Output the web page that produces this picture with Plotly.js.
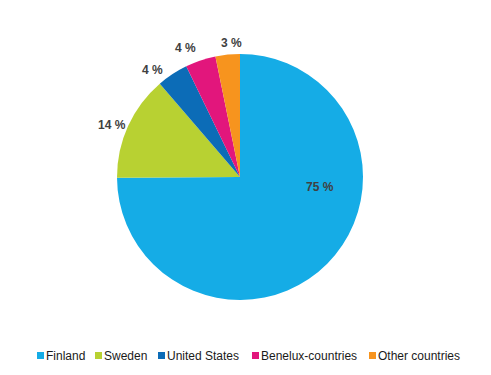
<!DOCTYPE html>
<html>
<head>
<meta charset="utf-8">
<script src="https://cdn.plot.ly/plotly-3.0.1.min.js"></script>
<style>html,body{margin:0;padding:0;background:#fff;}#chart{width:491px;height:375px;}</style>
</head>
<body>
<div id="chart"></div>
<script>
const categories = ["Finland", "Sweden", "United States", "Benelux-countries", "Other countries"];
const shares = [74.9, 13.8, 4.1, 4.0, 3.2];
const shareLabels = ["75 %", "14 %", "4 %", "4 %", "3 %"];
const colors = ["#15ACE6", "#B8D132", "#0C6CB7", "#E2167C", "#F7941E"];

const W = 491, H = 375;
const M = {l: 0, r: 11, t: 54, b: 75};
const PW = W - M.l - M.r, PH = H - M.t - M.b;
const px = x => (x - M.l) / PW;
const py = y => (H - M.b - y) / PH;

// label anchor positions (pixels) for each slice
const labelPos = [[320, 187], [112, 125], [152, 70], [185, 48], [231, 43]];
// legend square left edges (pixels)
const legendX = [37, 95, 158, 252, 369];
const legendY = 355.5;

const annotations = [];
const shapes = [];
categories.forEach((c, i) => {
  annotations.push({
    xref: 'paper', yref: 'paper', x: px(labelPos[i][0]), y: py(labelPos[i][1]),
    xanchor: 'center', yanchor: 'middle', showarrow: false,
    text: '<b>' + shareLabels[i] + '</b>',
    font: {family: 'Liberation Sans, Arial, sans-serif', size: 12, color: '#404040'}
  });
  shapes.push({
    type: 'rect', xref: 'paper', yref: 'paper',
    x0: px(legendX[i]), x1: px(legendX[i] + 7),
    y0: py(legendY - 3.5), y1: py(legendY + 3.5),
    fillcolor: colors[i], line: {width: 0}
  });
  annotations.push({
    xref: 'paper', yref: 'paper', x: px(legendX[i] + 7), y: py(legendY),
    xanchor: 'left', yanchor: 'middle', showarrow: false,
    text: c,
    font: {family: 'Liberation Sans, Arial, sans-serif', size: 12, color: '#1a1a1a'}
  });
});

const trace = {
  type: 'pie',
  labels: categories,
  values: shares,
  marker: {colors: colors, line: {width: 0}},
  sort: false,
  direction: 'clockwise',
  rotation: 0,
  textinfo: 'none',
  hoverinfo: 'label+percent',
  showlegend: false
};

const layout = {
  width: W, height: H,
  margin: M,
  paper_bgcolor: '#ffffff',
  plot_bgcolor: '#ffffff',
  showlegend: false,
  annotations: annotations,
  shapes: shapes,
  font: {family: 'Liberation Sans, Arial, sans-serif'}
};

Plotly.newPlot('chart', [trace], layout, {displayModeBar: false, staticPlot: true});
</script>
</body>
</html>
